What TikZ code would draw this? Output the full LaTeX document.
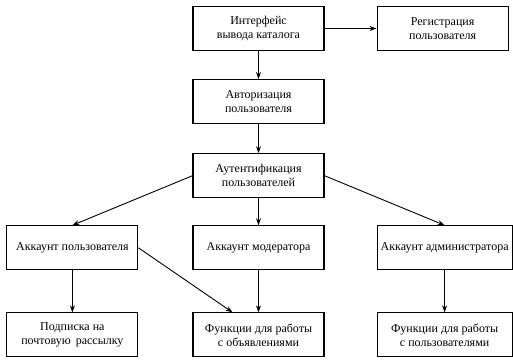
\documentclass[tikz,border=0pt]{standalone}
\usepackage{fontspec}
\setmainfont{Liberation Serif}
\usetikzlibrary{arrows.meta, positioning}

\begin{document}
\begin{tikzpicture}[
  block/.style={rectangle, draw, line width=1.1pt, minimum width=131pt,
                minimum height=44pt, inner sep=2pt,
                font=\fontsize{12}{14}\selectfont, align=center},
  arrow/.style={-{Stealth[length=7pt, width=5pt]}, line width=0.9pt},
]
  \useasboundingbox (0,0) rectangle (513pt,-360pt);

  \node[block] (iface) at (258.5pt,-28.5pt) {Интерфейс\\вывода каталога};
  \node[block, right=52pt of iface] (reg) {Регистрация\\пользователя};
  \node[block, below=28pt of iface] (auth) {Авторизация\\пользователя};
  \node[block, below=29pt of auth] (authn) {Аутентификация\\пользователей};
  \node[block, below=27pt of authn] (moder) {Аккаунт модератора};
  \node[block, left=54pt of moder] (user) {Аккаунт пользователя};
  \node[block, minimum width=135pt, right=52pt of moder] (admin) {Аккаунт администратора};
  \node[block, below=42pt of user] (subs) {Подписка на\\почтовую\, рассылку};
  \node[block, below=42pt of moder] (funcads) {Функции для работы\\с объявлениями};
  \node[block, minimum width=135pt, below=42pt of admin] (funcusr) {Функции для работы\\с пользователями};
  \coordinate[left=26pt of funcads.north] (ads-in);

  \draw[arrow] (iface) -- (reg);
  \draw[arrow] (iface) -- (auth);
  \draw[arrow] (auth) -- (authn);
  \draw[arrow] (authn.west) -- (user.north);
  \draw[arrow] (authn) -- (moder);
  \draw[arrow] (authn.east) -- (admin.north);
  \draw[arrow] (user) -- (subs);
  \draw[arrow] (user.east) -- (ads-in);
  \draw[arrow] (moder) -- (funcads);
  \draw[arrow] (admin) -- (funcusr);
\end{tikzpicture}
\end{document}
